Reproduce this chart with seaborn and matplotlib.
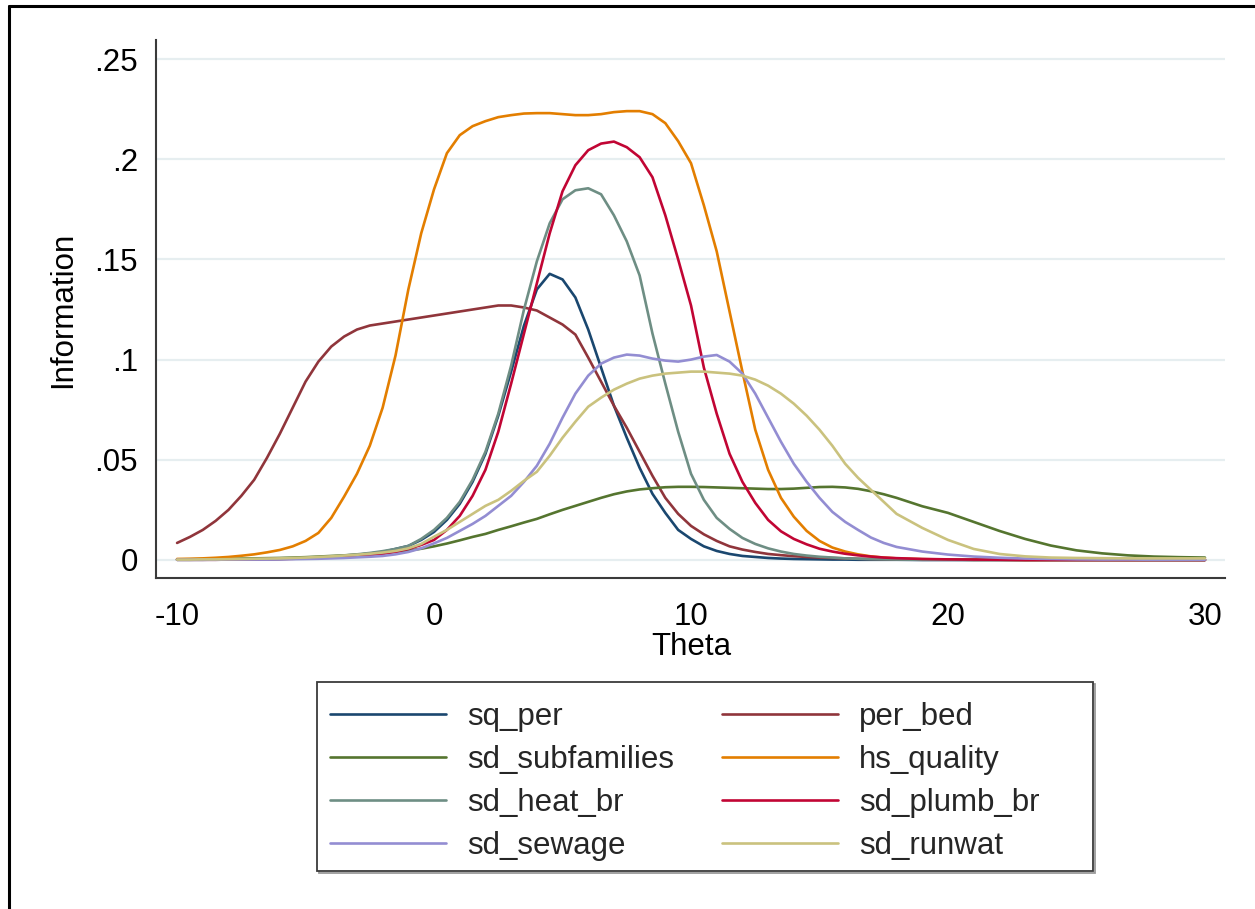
import numpy as np
import pandas as pd
import matplotlib
matplotlib.use("Agg")
import matplotlib.pyplot as plt
import seaborn as sns
from matplotlib.lines import Line2D
from matplotlib.patches import Rectangle

sns.set_theme(style="white")
plt.rcParams["font.family"] = ["Liberation Sans", "DejaVu Sans"]

# ---------------- data ----------------
theta = [-10, -9.5, -9, -8.5, -8, -7.5, -7, -6.5,
         -6, -5.5, -5, -4.5, -4, -3.5,
         -3, -2.5, -2, -1.5, -1, -0.5,
         0, 0.5, 1, 1.5, 2, 2.5,
         3, 3.5, 4, 4.5, 5, 5.5,
         6, 6.5, 7, 7.5, 8, 8.5,
         9, 9.5, 10, 10.5, 11, 11.5,
         12, 12.5, 13, 13.5, 14, 14.5,
         15, 15.5, 16, 16.5, 17, 17.5,
         18,
         19, 20, 21, 22, 23, 24, 25, 26, 27, 28, 29, 30]

sq_per = [0.0001, 0.0001, 0.0001, 0.0002, 0.0002, 0.0002, 0.0003, 0.0004,
          0.0005, 0.0007, 0.0009, 0.0012, 0.0015, 0.002,
          0.0025, 0.0032, 0.004, 0.0055, 0.007, 0.010,
          0.014, 0.020, 0.028, 0.039, 0.053, 0.072,
          0.094, 0.117, 0.135, 0.1428, 0.140, 0.131,
          0.115, 0.096, 0.077, 0.061, 0.046, 0.033,
          0.0235, 0.015, 0.0105, 0.0068, 0.0045, 0.003,
          0.002, 0.0015, 0.001, 0.0007, 0.0005, 0.0004,
          0.0003, 0.0002, 0.0002, 0.0001, 0.0001, 0.0001,
          0.0001,
          0, 0, 0, 0, 0, 0, 0, 0, 0, 0, 0, 0]

per_bed = [0.0085, 0.0115, 0.015, 0.0195, 0.025, 0.032, 0.040, 0.051,
           0.063, 0.076, 0.089, 0.099, 0.1065, 0.1115,
           0.115, 0.117, 0.118, 0.119, 0.120, 0.121,
           0.122, 0.123, 0.124, 0.125, 0.126, 0.127,
           0.127, 0.126, 0.1245, 0.121, 0.1175, 0.1125,
           0.101, 0.089, 0.077, 0.066, 0.054, 0.042,
           0.031, 0.023, 0.017, 0.0128, 0.0095, 0.0068,
           0.0052, 0.004, 0.003, 0.0024, 0.0019, 0.0015,
           0.0012, 0.001, 0.0008, 0.0006, 0.0005, 0.0004,
           0.0003,
           0.0002, 0.0002, 0.0001, 0.0001, 0, 0, 0, 0, 0, 0, 0, 0]

sd_subfamilies = [0.0003, 0.00035, 0.0004, 0.0005, 0.0006, 0.0007, 0.0008, 0.0009,
                  0.001, 0.0012, 0.0014, 0.0017, 0.002, 0.0023,
                  0.0027, 0.0031, 0.0036, 0.0041, 0.0047, 0.0056,
                  0.0068, 0.0082, 0.0098, 0.0115, 0.013, 0.015,
                  0.0168, 0.0187, 0.0205, 0.0228, 0.025, 0.027,
                  0.029, 0.031, 0.0328, 0.0342, 0.0352, 0.0358,
                  0.0363, 0.0365, 0.0365, 0.0364, 0.0362, 0.036,
                  0.0358, 0.0356, 0.0354, 0.0354, 0.0356, 0.036,
                  0.0364, 0.0365, 0.0362, 0.0355, 0.0343, 0.0328,
                  0.031,
                  0.0268, 0.0235, 0.019, 0.0145, 0.0105, 0.0072, 0.0048, 0.0033,
                  0.0023, 0.0017, 0.0014, 0.0012]

hs_quality = [0.0005, 0.0006, 0.0008, 0.0011, 0.0015, 0.0021, 0.0028, 0.0038,
              0.005, 0.0068, 0.0095, 0.0135, 0.021, 0.0316,
              0.043, 0.057, 0.076, 0.102, 0.135, 0.163,
              0.185, 0.203, 0.212, 0.2165, 0.219, 0.221,
              0.222, 0.2228, 0.223, 0.223, 0.2225, 0.222,
              0.222, 0.2225, 0.2235, 0.224, 0.224, 0.2225,
              0.218, 0.209, 0.198, 0.177, 0.154, 0.124,
              0.094, 0.065, 0.045, 0.031, 0.0216, 0.0145,
              0.0095, 0.0062, 0.0042, 0.0028, 0.0018, 0.0012,
              0.0008,
              0.0004, 0.0002, 0.0001, 0.0001, 0, 0, 0, 0, 0, 0, 0, 0]

sd_heat_br = [0.0001, 0.0001, 0.0002, 0.0002, 0.0003, 0.0003, 0.0004, 0.0005,
              0.0006, 0.0008, 0.001, 0.0013, 0.0017, 0.0022,
              0.0028, 0.0035, 0.0044, 0.0055, 0.007, 0.0105,
              0.015, 0.021, 0.029, 0.040, 0.054, 0.073,
              0.097, 0.125, 0.149, 0.168, 0.180, 0.1845,
              0.1855, 0.1825, 0.172, 0.159, 0.142, 0.113,
              0.088, 0.064, 0.043, 0.030, 0.021, 0.0155,
              0.011, 0.008, 0.0058, 0.0042, 0.003, 0.0022,
              0.0016, 0.0012, 0.0008, 0.0006, 0.0004, 0.0003,
              0.0002,
              0.0001, 0.0001, 0, 0, 0, 0, 0, 0, 0, 0, 0, 0]

sd_plumb_br = [0.0001, 0.0001, 0.0001, 0.0001, 0.0002, 0.0002, 0.0003, 0.0004,
               0.0005, 0.0006, 0.0008, 0.001, 0.0013, 0.0016,
               0.002, 0.0025, 0.003, 0.004, 0.0055, 0.0075,
               0.010, 0.015, 0.022, 0.032, 0.045, 0.064,
               0.088, 0.113, 0.138, 0.163, 0.184, 0.197,
               0.2045, 0.2078, 0.2088, 0.206, 0.201, 0.191,
               0.172, 0.150, 0.127, 0.096, 0.073, 0.053,
               0.039, 0.0285, 0.020, 0.0143, 0.0105, 0.0078,
               0.0056, 0.0042, 0.0031, 0.0023, 0.0017, 0.0012,
               0.0009,
               0.0005, 0.0003, 0.0002, 0.0001, 0, 0, 0, 0, 0, 0, 0, 0]

sd_sewage = [0.0001, 0.0001, 0.0001, 0.0001, 0.0002, 0.0002, 0.0002, 0.0002,
             0.0003, 0.0004, 0.0005, 0.0006, 0.0008, 0.001,
             0.0013, 0.0016, 0.002, 0.0028, 0.004, 0.0058,
             0.0083, 0.011, 0.0145, 0.018, 0.022, 0.027,
             0.032, 0.039, 0.047, 0.058, 0.071, 0.083,
             0.092, 0.098, 0.101, 0.1025, 0.102, 0.1005,
             0.0995, 0.099, 0.100, 0.1015, 0.1023, 0.099,
             0.093, 0.083, 0.071, 0.059, 0.048, 0.039,
             0.031, 0.024, 0.019, 0.015, 0.0112, 0.0085,
             0.0065,
             0.0042, 0.0027, 0.0017, 0.0011, 0.0007, 0.0005, 0.0003, 0.0002,
             0.0002, 0.0001, 0.0001, 0.0001]

sd_runwat = [0.0002, 0.0002, 0.0003, 0.0003, 0.0004, 0.0005, 0.0006, 0.0007,
             0.0008, 0.001, 0.0012, 0.0015, 0.0018, 0.0022,
             0.0026, 0.0031, 0.0037, 0.0045, 0.0058, 0.008,
             0.0116, 0.015, 0.019, 0.023, 0.027, 0.030,
             0.0345, 0.0395, 0.044, 0.052, 0.061, 0.069,
             0.0765, 0.081, 0.085, 0.088, 0.0905, 0.092,
             0.093, 0.0935, 0.094, 0.094, 0.0935, 0.093,
             0.092, 0.090, 0.087, 0.083, 0.078, 0.072,
             0.065, 0.057, 0.048, 0.041, 0.035, 0.029,
             0.023,
             0.016, 0.010, 0.0055, 0.003, 0.0018, 0.0012, 0.001, 0.0009,
             0.0008, 0.0008, 0.0008, 0.0008]

items = ["sq_per", "per_bed", "sd_subfamilies", "hs_quality",
         "sd_heat_br", "sd_plumb_br", "sd_sewage", "sd_runwat"]
series = [sq_per, per_bed, sd_subfamilies, hs_quality,
          sd_heat_br, sd_plumb_br, sd_sewage, sd_runwat]
colors = ["#1a476f", "#90353b", "#55752f", "#e37e00",
          "#6e8e84", "#c10534", "#938dd2", "#cac27e"]

xticks = [-10, 0, 10, 20, 30]
xticklabels = ["-10", "0", "10", "20", "30"]
yticks = [0, 0.05, 0.1, 0.15, 0.2, 0.25]
yticklabels = ["0", ".05", ".1", ".15", ".2", ".25"]

df = pd.DataFrame({
    "Theta": np.tile(theta, len(items)),
    "Information": np.concatenate([np.asarray(s, float) for s in series]),
    "item": np.repeat(items, len(theta)),
})

# ---------------- figure ----------------
W, H = 1255, 909
fig = plt.figure(figsize=(W / 100, H / 100), dpi=100)
fig.patch.set_facecolor("white")

def fx(px):
    return px / W

def fy(py):
    return 1 - py / H

ax = fig.add_axes([fx(156), fy(578), fx(1225) - fx(156), fy(40) - fy(578)])
ax.set_facecolor("white")

sns.lineplot(data=df, x="Theta", y="Information", hue="item", hue_order=items,
             palette=colors, linewidth=1.9, estimator=None, sort=False,
             legend=False, ax=ax)

ax.set_xlim(-10.82, 30.78)
ax.set_ylim(-0.009, 0.2595)
ax.set_xticks(xticks)
ax.set_xticklabels(xticklabels)
ax.set_yticks(yticks)
ax.set_yticklabels(yticklabels)

for s in ["top", "right"]:
    ax.spines[s].set_visible(False)
for s in ["left", "bottom"]:
    ax.spines[s].set_color("#3a3a3a")
    ax.spines[s].set_linewidth(1.5)

ax.tick_params(axis="both", direction="out", length=8.6, width=1.4,
               color="#3a3a3a", labelsize=22.5, labelcolor="black")
ax.tick_params(axis="y", pad=4.3)
ax.tick_params(axis="x", pad=8.5)

ax.yaxis.grid(True, color="#e6eef0", linewidth=1.6)
ax.xaxis.grid(False)
ax.set_axisbelow(True)

ax.set_xlabel("Theta", fontsize=22.5, color="black")
ax.set_ylabel("Information", fontsize=22.5, color="black")
ax.xaxis.label.set_va("center")
ax.yaxis.label.set_va("center")
ax.xaxis.set_label_coords(fx(691), fy(647), transform=fig.transFigure)
ax.yaxis.set_label_coords(fx(63), fy(310), transform=fig.transFigure)

# ---------------- legend (two columns) ----------------
handles = [Line2D([], [], color=c, linewidth=1.9) for c in colors]
col1 = [0, 2, 4, 6]
col2 = [1, 3, 5, 7]
common = dict(frameon=False, fontsize=22.5, handlelength=3.71,
              handletextpad=0.67, labelspacing=0.42, borderpad=0,
              borderaxespad=0, loc="upper left")
leg1 = fig.legend([handles[i] for i in col1], [items[i] for i in col1],
                  bbox_to_anchor=(fx(330), fy(701.5)), **common)
leg2 = fig.legend([handles[i] for i in col2], [items[i] for i in col2],
                  bbox_to_anchor=(fx(722), fy(701.5)), **common)

# legend frame with a slight shadow
fig.add_artist(Rectangle((fx(319), fy(873)), fx(1095) - fx(319), fy(684) - fy(873),
                         transform=fig.transFigure, fill=False,
                         edgecolor="#9a9a9a", linewidth=1.3, zorder=0))
fig.add_artist(Rectangle((fx(317), fy(871)), fx(1093) - fx(317), fy(682) - fy(871),
                         transform=fig.transFigure, facecolor="white",
                         edgecolor="#3a3a3a", linewidth=1.3, zorder=0.5))

# outer border (left and top edges of the screenshot frame)
fig.add_artist(Line2D([fx(8.5), fx(8.5)], [0, fy(6)], transform=fig.transFigure,
                      color="black", linewidth=2.2))
fig.add_artist(Line2D([fx(8.5), 1], [fy(6), fy(6)], transform=fig.transFigure,
                      color="black", linewidth=2.2))

fig.savefig("out.png", dpi=100, facecolor="white")
